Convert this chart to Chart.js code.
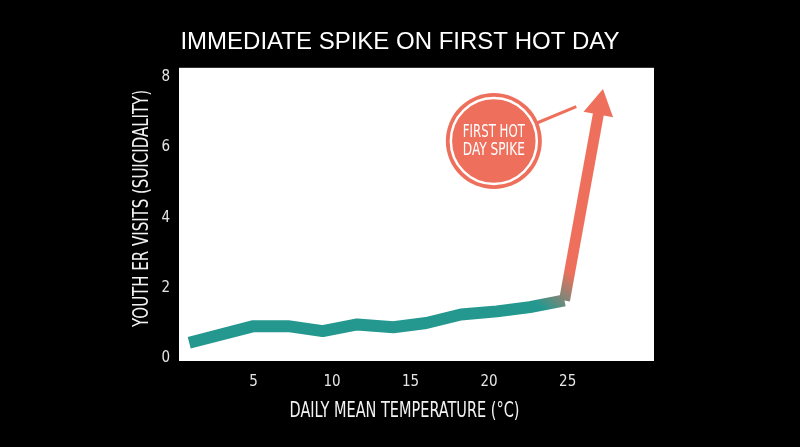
<!DOCTYPE html>
<html>
<head>
<meta charset="utf-8">
<script src="https://cdn.jsdelivr.net/npm/chart.js@4"></script>
<style>
  html, body { margin: 0; padding: 0; background: #000; }
  #wrap { width: 800px; height: 447px; }
</style>
</head>
<body>
<div id="wrap"><canvas id="heatChart"></canvas></div>
<script>
// temperature (°C) vs youth ER visits
const tempC  = [0.9, 5.0, 7.2, 9.4, 11.6, 13.9, 16.0, 18.2, 20.5, 22.6, 24.8];
const visits = [0.45, 0.92, 0.92, 0.78, 0.97, 0.89, 1.01, 1.25, 1.34, 1.46, 1.65];

// the first hot day jump (start of arrow, arrow tip)
const spikeTemp   = [24.8, 27.25];
const spikeVisits = [1.65, 7.66];

const xTicks = [5, 10, 15, 20, 25];
const yTicks = [0, 2, 4, 6, 8];

const chartTitle = 'IMMEDIATE SPIKE ON FIRST HOT DAY';
const xTitle = 'DAILY MEAN TEMPERATURE (°C)';
const yTitle = 'YOUTH ER VISITS (SUICIDALITY)';
const calloutText = ['FIRST HOT', 'DAY SPIKE'];

const TEAL = '#24988f';
const SALMON = '#ee705c';
const NARROW = '"Liberation Sans Narrow", "DejaVu Sans Condensed", "Liberation Sans", sans-serif';

// callout bubble sits at these chart values and points toward the arrow
const calloutAt = { x: 20.3, y: 6.18 };
const calloutPointTo = { x: 25.55, y: 7.16 };

function jointGradient(chart) {
  const { ctx, scales } = chart;
  const jx = scales.x.getPixelForValue(spikeTemp[0]);
  const jy = scales.y.getPixelForValue(spikeVisits[0]);
  const g = ctx.createLinearGradient(jx - 22, jy + 8, jx + 6, jy - 28);
  g.addColorStop(0, TEAL);
  g.addColorStop(1, SALMON);
  return g;
}

const plotBackground = {
  id: 'plotBackground',
  beforeDraw(chart) {
    const { ctx, chartArea: a } = chart;
    ctx.save();
    ctx.fillStyle = '#fff';
    ctx.fillRect(a.left, a.top, a.right - a.left, a.bottom - a.top);
    ctx.restore();
  }
};

// narrow axis titles, squeezed a bit like the original's condensed face
function squeezedText(ctx, text, x, y, size, maxW) {
  ctx.font = size + 'px ' + NARROW;
  const w = ctx.measureText(text).width;
  const sx = Math.min(1, maxW / w);
  ctx.save();
  ctx.translate(x, y);
  ctx.scale(sx, 1);
  ctx.fillText(text, 0, 0);
  ctx.restore();
}

const axisTitles = {
  id: 'axisTitles',
  afterDraw(chart) {
    const { ctx, chartArea: a } = chart;
    ctx.save();
    ctx.fillStyle = '#f2f2f2';
    ctx.textAlign = 'center';
    ctx.textBaseline = 'middle';
    squeezedText(ctx, xTitle, (a.left + a.right) / 2 - 12, a.bottom + 51, 21, 230);
    ctx.translate(a.left - 36, (a.top + a.bottom) / 2 - 6);
    ctx.rotate(-Math.PI / 2);
    squeezedText(ctx, yTitle, 0, 0, 21, 237);
    ctx.restore();
  }
};

const spikeArrow = {
  id: 'spikeArrow',
  afterDatasetsDraw(chart) {
    const { ctx } = chart;
    const pts = chart.getDatasetMeta(1).data;
    const a = pts[0], tip = pts[1];
    let dx = tip.x - a.x, dy = tip.y - a.y;
    const len = Math.hypot(dx, dy);
    dx /= len; dy /= len;
    const headLen = 26, headHalf = 15;
    const bx = tip.x - dx * headLen, by = tip.y - dy * headLen;
    ctx.save();
    ctx.strokeStyle = jointGradient(chart);
    ctx.lineWidth = 11;
    ctx.lineCap = 'butt';
    ctx.beginPath();
    ctx.moveTo(a.x, a.y);
    ctx.lineTo(bx + dx * 2, by + dy * 2);
    ctx.stroke();
    ctx.fillStyle = SALMON;
    ctx.beginPath();
    ctx.moveTo(tip.x, tip.y);
    ctx.lineTo(bx - dy * headHalf, by + dx * headHalf);
    ctx.lineTo(bx + dy * headHalf, by - dx * headHalf);
    ctx.closePath();
    ctx.fill();
    ctx.restore();
  }
};

const callout = {
  id: 'callout',
  afterDraw(chart) {
    const { ctx, scales } = chart;
    const cx = scales.x.getPixelForValue(calloutAt.x);
    const cy = scales.y.getPixelForValue(calloutAt.y);
    const px = scales.x.getPixelForValue(calloutPointTo.x);
    const py = scales.y.getPixelForValue(calloutPointTo.y);
    const r = 48;
    let dx = px - cx, dy = py - cy;
    const d = Math.hypot(dx, dy);
    dx /= d; dy /= d;
    ctx.save();
    ctx.strokeStyle = SALMON;
    ctx.lineWidth = 3;
    ctx.beginPath();
    ctx.moveTo(cx + dx * (r - 2), cy + dy * (r - 2));
    ctx.lineTo(px, py);
    ctx.stroke();
    ctx.fillStyle = SALMON;
    ctx.beginPath();
    ctx.arc(cx, cy, r, 0, Math.PI * 2);
    ctx.fill();
    ctx.strokeStyle = '#fff';
    ctx.lineWidth = 2.5;
    ctx.beginPath();
    ctx.arc(cx, cy, r - 5, 0, Math.PI * 2);
    ctx.stroke();
    ctx.fillStyle = '#fff';
    ctx.textAlign = 'center';
    ctx.textBaseline = 'middle';
    squeezedText(ctx, calloutText[0], cx, cy - 8, 17, 62);
    squeezedText(ctx, calloutText[1], cx, cy + 10, 17, 62);
    ctx.restore();
  }
};

new Chart(document.getElementById('heatChart'), {
  type: 'line',
  data: {
    datasets: [
      {
        label: 'Youth ER visits',
        data: tempC.map((t, i) => ({ x: t, y: visits[i] })),
        borderColor: (c) => c.chart.chartArea ? jointGradient(c.chart) : TEAL,
        borderWidth: 12,
        borderJoinStyle: 'round',
        borderCapStyle: 'butt',
        pointRadius: 0,
        tension: 0,
        fill: false
      },
      {
        label: 'First hot day',
        data: spikeTemp.map((t, i) => ({ x: t, y: spikeVisits[i] })),
        showLine: false,
        borderWidth: 0,
        pointRadius: 0
      }
    ]
  },
  options: {
    responsive: true,
    maintainAspectRatio: false,
    animation: false,
    layout: { padding: 0 },
    plugins: {
      legend: { display: false },
      tooltip: { enabled: false },
      title: {
        display: true,
        text: chartTitle,
        color: '#fff',
        font: { family: '"Liberation Sans", Arial, sans-serif', size: 24, weight: 'normal' },
        padding: { top: 28, bottom: 11 }
      }
    },
    scales: {
      x: {
        type: 'linear',
        min: 0.25,
        max: 30.5,
        afterBuildTicks: (s) => { s.ticks = xTicks.map(v => ({ value: v })); },
        afterFit: (s) => { s.height = 86; },
        grid: { display: false, drawTicks: false },
        border: { display: false },
        ticks: { color: '#e6e6e6', padding: 12, font: { family: NARROW, size: 15 } }
      },
      y: {
        type: 'linear',
        min: -0.07,
        max: 8.26,
        afterBuildTicks: (s) => { s.ticks = yTicks.map(v => ({ value: v })); },
        afterFit: (s) => { s.width = 179; },
        grid: { display: false, drawTicks: false },
        border: { display: false },
        ticks: { color: '#e6e6e6', padding: 9, font: { family: NARROW, size: 15 } }
      },
      // empty right-hand margin so the title centres on the whole page
      margin: {
        type: 'linear',
        position: 'right',
        afterFit: (s) => { s.width = 146; },
        grid: { display: false, drawTicks: false },
        border: { display: false },
        ticks: { display: false }
      }
    }
  },
  plugins: [plotBackground, spikeArrow, callout, axisTitles]
});
</script>
</body>
</html>
